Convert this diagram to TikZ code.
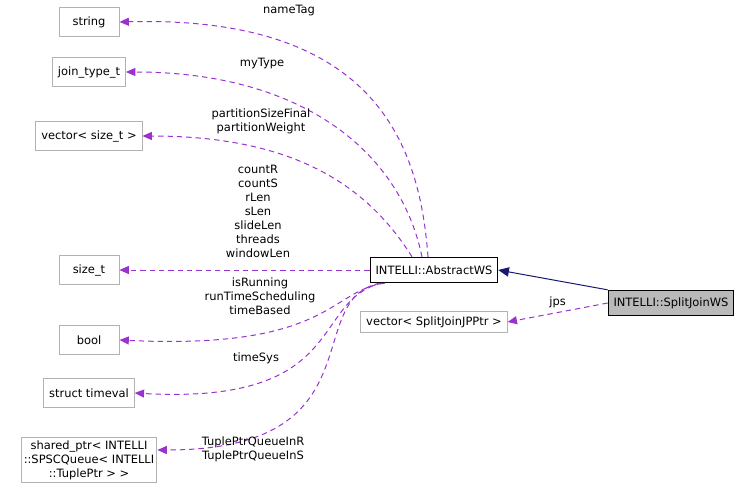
\documentclass[tikz,border=0pt]{standalone}
\usepackage{fontspec}
\setmainfont{DejaVu Sans}
\usetikzlibrary{positioning,arrows.meta,calc}
\definecolor{dep}{HTML}{9A32CD}
\definecolor{inh}{HTML}{191970}
\tikzstyle{tbox}=[rectangle, draw=black!30, fill=white, inner sep=4pt, minimum height=22pt, font=\fontsize{8.6}{10.5}\selectfont, align=center, line width=0.75pt]
\tikzstyle{cbox}=[tbox, draw=black, minimum height=19pt]
\tikzstyle{dline}=[dash pattern=on 4pt off 3pt, dep, line width=0.75pt, -{Triangle[length=7pt,width=6pt]}]
\tikzstyle{lbl}=[font=\fontsize{8.6}{10.5}\selectfont, align=center, inner sep=0pt]
\begin{document}
\begin{tikzpicture}[x=0.75pt, y=-0.75pt]
\useasboundingbox (0,0) rectangle (752,492);

\node (STR) [tbox, minimum width=45pt] at (89,22) {string};
\node (JTT) [tbox] at (89,72) {join\_type\_t};
\node (VST) [tbox] at (89,136) {vector\textless{} size\_t \textgreater{}};
\node (SZT) [tbox, minimum width=45pt] at (89,270) {size\_t};
\node (BOOL) [tbox, minimum width=45pt] at (89,340) {bool};
\node (TVAL) [tbox] at (89,393) {struct timeval};
\node (SPQ) [tbox, inner sep=2pt] at (89,460) {shared\_ptr\textless{} INTELLI\\::SPSCQueue\textless{} INTELLI\\::TuplePtr \textgreater{} \textgreater{}};
\node (AWS) [cbox] at (434,270) {INTELLI::AbstractWS};
\node (VSJ) [tbox, minimum height=16pt] at (434,322) {vector\textless{} SplitJoinJPPtr \textgreater{}};
\node (SJWS) [cbox, fill=black!27] at (671,303) {INTELLI::SplitJoinWS};

% inheritance
\draw[inh, line width=0.75pt, -{Triangle[length=8pt,width=7pt]}] (SJWS.north west) -- (AWS.east);
% members
\draw[dline] (SJWS.west) -- node[lbl, black, above=3pt] {jps} (VSJ.east);
\draw[dline] ($(AWS.north)+(-6,0)$) .. controls (420,150) and (380,15) .. (STR.east);
\draw[dline] ($(AWS.north)+(-12,0)$) .. controls (400,150) and (300,72) .. (JTT.east);
\draw[dline] ($(AWS.north)+(-22,0)$) .. controls (370,190) and (300,136) .. (VST.east);
\draw[dline] (AWS.west) -- (SZT.east);
\draw[dline] ($(AWS.south west)+(15,0)$) .. controls (330,290) and (330,350) .. (BOOL.east);
\draw[dline] ($(AWS.south west)+(12,0)$) .. controls (310,300) and (350,405) .. (TVAL.east);
\draw[dline] ($(AWS.south west)+(10,0)$) .. controls (300,300) and (380,450) .. ($(SPQ.east)+(0,-10)$);

\node[lbl] (L1) at (289,11) {nameTag};
\node[lbl] (L2) at (262,64) {myType};
\node[lbl] (L3) at (261,121) {partitionSizeFinal\\partitionWeight};
\node[lbl] (L4) at (258,211) {countR\\countS\\rLen\\sLen\\slideLen\\threads\\windowLen};
\node[lbl] (L5) at (260,296) {isRunning\\runTimeScheduling\\timeBased};
\node[lbl] (L6) at (256,358) {timeSys};
\node[lbl] (L7) at (253,449) {TuplePtrQueueInR\\TuplePtrQueueInS};
\end{tikzpicture}
\end{document}
